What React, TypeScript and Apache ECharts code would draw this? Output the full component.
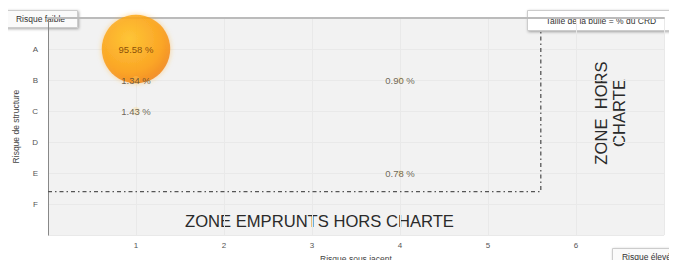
import React, { useEffect, useRef } from "react";
import * as echarts from "echarts";

const xCategories = ["1", "2", "3", "4", "5", "6"];
const yCategories = ["A", "B", "C", "D", "E", "F"];
// [risque sous-jacent (1-6), risque de structure (1=A..6=F), % du CRD]
const bubbleX = [1, 1, 1, 4, 4];
const bubbleY = [1, 2, 3, 2, 5];
const bubbleShare = [95.58, 1.34, 1.43, 0.9, 0.78];
const limitPath = [
  [0, 5.6],
  [5.6, 5.6],
  [5.6, 0.42],
];

export default function App() {
  const ref = useRef<HTMLDivElement>(null);
  useEffect(() => {
    if (!ref.current) return;
    const chart = echarts.init(ref.current, undefined, { renderer: "svg" });
    const font = "'Liberation Sans', Arial, sans-serif";
    const data = bubbleX.map((x, i) => {
      const v = bubbleShare[i];
      const big = v > 10;
      return {
        value: [x, bubbleY[i], v],
        symbolSize: Math.sqrt(v) * 7,
        itemStyle: big
          ? {
              color: new echarts.graphic.RadialGradient(0.4, 0.35, 0.7, [
                { offset: 0, color: "#ffc21e" },
                { offset: 0.7, color: "#fb9a0c" },
                { offset: 1, color: "#f07a06" },
              ]),
              shadowBlur: 5,
              shadowColor: "rgba(255,170,40,0.6)",
            }
          : { color: "rgba(255,215,120,0.35)" },
        label: {
          color: big ? "#6b3300" : "#4a4230",
        },
      };
    });
    const box = (
      left: number,
      top: number,
      w: number,
      h: number,
      text: string,
      size: number,
      fill: string
    ) => ({
      type: "group",
      left,
      top,
      children: [
        {
          type: "rect",
          shape: { x: 0, y: 0, width: w, height: h },
          style: {
            fill,
            stroke: "#cccccc",
            shadowBlur: 3,
            shadowOffsetX: 1,
            shadowOffsetY: 1,
            shadowColor: "rgba(0,0,0,0.35)",
          },
        },
        {
          type: "text",
          x: w / 2,
          y: h / 2,
          style: {
            text,
            fontSize: size,
            fill: "#333",
            fontFamily: font,
            align: "center",
            verticalAlign: "middle",
          },
        },
      ],
    });
    chart.setOption({
      animation: false,
      textStyle: { fontFamily: font },
      grid: {
        left: 48,
        right: 13,
        top: 18,
        bottom: 23,
        show: true,
        backgroundColor: "#f2f2f2",
        borderWidth: 0,
      },
      xAxis: {
        type: "value",
        min: 0,
        max: 7,
        interval: 1,
        name: "Risque sous jacent",
        nameLocation: "middle",
        nameGap: 16,
        nameTextStyle: { fontSize: 8.5, color: "#444", fontFamily: font },
        axisLine: { show: true, lineStyle: { color: "#bbbbbb", width: 2 } },
        axisTick: { show: false },
        axisLabel: {
          fontSize: 8,
          color: "#555",
          margin: 6,
          formatter: (v: number) => (v >= 1 && v <= 6 ? xCategories[v - 1] : ""),
        },
        splitLine: { show: true, lineStyle: { color: "#e9e9e9" } },
      },
      yAxis: {
        type: "value",
        min: 0,
        max: 7,
        interval: 1,
        inverse: true,
        name: "Risque de structure",
        nameLocation: "middle",
        nameGap: 28,
        nameRotate: 90,
        nameTextStyle: { fontSize: 8.5, color: "#444", fontFamily: font },
        axisLine: { show: true, lineStyle: { color: "#888", width: 1 } },
        axisTick: { show: false },
        axisLabel: {
          fontSize: 8,
          color: "#555",
          margin: 10,
          formatter: (v: number) => (v >= 1 && v <= 6 ? yCategories[v - 1] : ""),
        },
        splitLine: { show: true, lineStyle: { color: "#e9e9e9" } },
      },
      series: [
        {
          type: "line",
          data: limitPath,
          symbol: "none",
          silent: true,
          lineStyle: { color: "#555", width: 1.3, type: [4, 3, 1.5, 3] },
          z: 1,
        },
        {
          type: "scatter",
          data,
          label: {
            show: true,
            position: "inside",
            fontSize: 9.5,
            fontFamily: font,
            formatter: (p: any) => `${p.value[2].toFixed(2)} %`,
          },
          z: 3,
        },
      ],
      graphic: [
        {
          type: "text",
          left: 185,
          top: 213,
          style: {
            text: "ZONE EMPRUNTS HORS CHARTE",
            fontSize: 16.6,
            fill: "#2a2a2a",
            fontFamily: font,
          },
        },
        {
          type: "text",
          x: 610,
          y: 113,
          rotation: Math.PI / 2,
          style: {
            text: "ZONE  HORS\nCHARTE",
            fontSize: 16.6,
            lineHeight: 18,
            fill: "#2a2a2a",
            fontFamily: font,
            align: "center",
            verticalAlign: "middle",
          },
        },
        box(3, 10, 74, 17, "Risque faible", 8.5, "#fafafa"),
        box(527, 10, 147, 20, "Taille de la bulle = % du CRD", 8.5, "#ffffff"),
        box(612, 248, 68, 17, "Risque élevé", 8.5, "#fafafa"),
      ],
    });
    return () => chart.dispose();
  }, []);
  return <div ref={ref} style={{ width: 677, height: 268, margin: -8 }} />;
}
